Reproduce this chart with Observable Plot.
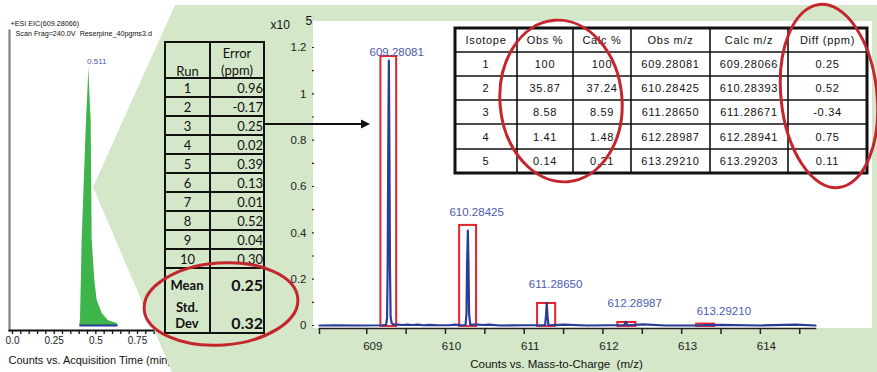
<!DOCTYPE html>
<html><head><meta charset="utf-8">
<script src="https://cdn.jsdelivr.net/npm/d3@7"></script>
<script src="https://cdn.jsdelivr.net/npm/@observablehq/plot@0.6"></script>
<style>
html,body{margin:0;padding:0;background:#fff;}
#wrap{position:relative;width:877px;height:372px;overflow:hidden;background:#fff;}
#wrap > *{position:absolute;left:0;top:0;}
</style></head><body><div id="wrap"></div>
<script>
// ---------- data: chromatogram (EIC) ----------
const chromTime      = [0.404,0.408,0.414,0.418,0.444,0.452,0.458,0.464,0.472,0.478,0.494,0.508,0.538,0.576,0.628,0.633];
const chromIntensity = [0,0.027,0.2,0.33,0.795,0.9,1.0,0.9,0.795,0.33,0.174,0.097,0.047,0.019,0.008,0];
const chromApexTime = 0.458;
const chromApexLabel = "0.511";
const chromTitle1 = "+ESI EIC(609.28066)";
const chromTitle2 = "Scan Frag=240.0V  Reserpine_40pgms3.d";
const chromXTicks = [0, 0.25, 0.5, 0.75];
const chromXTickLabels = ["0.0", "0.25", "0.5", "0.75"];
const chromXLabel = "Counts vs. Acquisition Time (min)";

// ---------- data: mass spectrum (counts x10^5) ----------
const specMz = [608.40,608.60,608.90,609.20,609.245,609.258,609.266,609.273,609.2808,609.288,609.295,609.303,609.315,609.335,
  609.40,609.45,609.52,609.58,609.65,609.72,609.80,609.90,610.05,610.12,610.20,610.255,610.267,610.275,610.2843,610.292,610.300,610.315,
  610.40,610.48,610.55,610.70,611.00,611.265,611.277,611.2865,611.296,611.308,611.50,611.80,612.10,612.27,612.2899,612.31,612.50,612.80,
  613.20,613.2921,613.50,614.00,614.45,614.70];
const specCounts = [0,0.001,0,0.001,0.003,0.03,0.25,0.75,1.143,0.75,0.25,0.04,0.012,0.004,
  0.004,0.002,0.004,0.002,0.004,0.001,0.003,0.001,0.001,0.004,0.001,0.002,0.05,0.27,0.41,0.27,0.05,0.004,
  0.004,0.002,0.004,0,0.001,0.001,0.04,0.098,0.04,0.001,0.004,0,0.001,0.001,0.016,0.001,0.005,0,
  0,0.0016,0.003,0,0.004,0];
const peakLabels   = ["609.28081","610.28425","611.28650","612.28987","613.29210"];
const peakLabelMz  = [609.381,610.396,611.399,612.403,613.536];
const peakLabelY   = [1.178,0.488,0.177,0.095,0.060];
const boxMzLo  = [609.18,610.18,611.17,612.19,613.19];
const boxMzHi  = [609.38,610.395,611.40,612.42,613.42];
const boxTop   = [1.161,0.432,0.095,0.013,0.006];
const specXTicks = [609,610,611,612,613,614];
const specXMinorTicks = [608.4,609,609.5,610,610.5,611,611.5,612,612.5,613,613.5,614,614.5];
const specYTicks = [0,0.2,0.4,0.6,0.8,1.0,1.2];
const specYMinorTicks = [0,0.1,0.2,0.3,0.4,0.5,0.6,0.7,0.8,0.9,1.0,1.1,1.2];
const specXLabel = "Counts vs. Mass-to-Charge  (m/z)";

// ---------- data: run table ----------
const runs = ["1","2","3","4","5","6","7","8","9","10"];
const runErrors = ["0.96","-0.17","0.25","0.02","0.39","0.13","0.01","0.52","0.04","0.30"];
const runMean = "0.25";
const runStdDev = "0.32";

// ---------- data: isotope table ----------
const isoHeader = ["Isotope","Obs %","Calc %","Obs m/z","Calc m/z","Diff (ppm)"];
const isoId   = ["1","2","3","4","5"];
const isoObs  = ["100","35.87","8.58","1.41","0.14"];
const isoCalc = ["100","37.24","8.59","1.48","0.21"];
const isoObsMz  = ["609.28081","610.28425","611.28650","612.28987","613.29210"];
const isoCalcMz = ["609.28066","610.28393","611.28671","612.28941","613.29203"];
const isoDiff   = ["0.25","0.52","-0.34","0.75","0.11"];

// ---------- build ----------
const wrap = document.getElementById("wrap");
const W = 877, H = 372;
const BLUE = "#2c3b98", LBLUE = "#4a5ab0", RED = "#e4232b", ERED = "#c4262e", GREEN_BG = "#d4e7c9", GREEN_PK = "#3db54a";
const SANS = "'Liberation Sans', Arial, sans-serif";

const chromData = chromTime.map((t, i) => ({t, v: chromIntensity[i]}));
const chrom = Plot.plot({
  width: 170, height: H,
  marginLeft: 9, marginRight: 15, marginTop: 30, marginBottom: 42,
  x: {domain: [-0.018, 0.858], label: null},
  y: {domain: [-0.019, 1.143], label: null, axis: null},
  style: {background: "transparent", fontFamily: SANS, fontSize: "10px", color: "#222", overflow: "visible"},
  marks: [
    Plot.areaY(chromData, {x: "t", y: "v", fill: GREEN_PK}),
    Plot.ruleY([0], {x1: d3.min(chromTime), x2: d3.max(chromTime), stroke: BLUE, strokeWidth: 2}),
    Plot.frame({anchor: "left", stroke: "#808080", strokeWidth: 2.2}),
    Plot.frame({anchor: "bottom", stroke: "#111", strokeWidth: 2}),
    Plot.axisX({ticks: d3.range(0, 0.851, 0.05), tickSize: 4, text: null, label: null, stroke: "#111", strokeWidth: 1.3}),
    Plot.axisX({ticks: chromXTicks, tickSize: 0, tickPadding: 6, label: null, tickFormat: (d, i) => chromXTickLabels[i]}),
    Plot.text([chromApexLabel], {x: chromApexTime, y: 1, dx: 8, dy: -6, fill: LBLUE, fontSize: 8}),
    Plot.text([chromTitle1], {frameAnchor: "top-left", dx: 1, dy: -10, textAnchor: "start", fontSize: 7.2, fill: "#111"}),
    Plot.text([chromTitle2], {frameAnchor: "top-left", dx: 6, dy: 0, textAnchor: "start", fontSize: 7.2, fill: "#111"}),
    Plot.text([chromXLabel], {frameAnchor: "bottom-left", dx: -1, dy: 33, textAnchor: "start", fontSize: 11, fill: "#111"})
  ]
});
wrap.appendChild(chrom);

// background: green fan and white plot area
const back = d3.create("svg").attr("width", W).attr("height", H);
back.append("polygon").attr("points", "175,5 877,5 877,372 172,372 93,187").attr("fill", GREEN_BG);
back.append("rect").attr("x", 313).attr("y", 21).attr("width", 559).attr("height", 307).attr("fill", "#fff");
wrap.appendChild(back.node());

const specData = specMz.map((m, i) => ({mz: m, c: specCounts[i]}));
const boxes = boxMzLo.map((lo, i) => ({lo, hi: boxMzHi[i], top: boxTop[i]}));
const labels = peakLabels.map((s, i) => ({s, x: peakLabelMz[i], y: peakLabelY[i]}));
const fmtY = d => String(+d.toFixed(1));
const spec = Plot.plot({
  width: W, height: H,
  marginLeft: 319, marginRight: 62, marginTop: 47, marginBottom: 44,
  x: {domain: [608.4, 614.7], label: null},
  y: {domain: [-0.013, 1.2], label: null},
  style: {background: "transparent", fontFamily: SANS, fontSize: "11.5px", color: "#222", overflow: "visible"},
  marks: [
    Plot.rect(boxes, {x1: "lo", x2: "hi", y1: -0.004, y2: "top", stroke: RED, strokeWidth: 2, fill: "none"}),
    Plot.line(specData, {x: "mz", y: "c", stroke: BLUE, strokeWidth: 2.2}),
    Plot.text(labels, {x: "x", y: "y", text: "s", fill: LBLUE, fontSize: 11.5}),
    Plot.frame({anchor: "bottom", stroke: "#222", strokeWidth: 1.6}),
    Plot.axisX({ticks: specXMinorTicks, tickSize: 6, text: null, label: null, stroke: "#222", strokeWidth: 1.5}),
    Plot.axisX({ticks: specXTicks, tickSize: 0, tickPadding: 13, dx: 6, label: null, tickFormat: d => String(d)}),
    Plot.axisY({ticks: specYMinorTicks, tickSize: 2, text: null, label: null, dx: -5, stroke: "#222", strokeWidth: 1.2}),
    Plot.axisY({ticks: specYTicks, tickSize: 0, tickPadding: 13, label: null, tickFormat: fmtY}),
    Plot.text(["x10"], {frameAnchor: "top-left", dx: -49, dy: -27, fontSize: 12, fill: "#111"}),
    Plot.text(["5"], {frameAnchor: "top-left", dx: -14, dy: -31, fontSize: 12, fill: "#111"}),
    Plot.text([specXLabel], {frameAnchor: "bottom", dx: -11, dy: 39, fontSize: 11.5, fill: "#111"})
  ]
});
wrap.appendChild(spec);

// front: tables, arrow, ellipses
const front = d3.create("svg").attr("width", W).attr("height", H);
// run table
const rt = front.append("g").attr("font-family", "Lato, 'Open Sans', sans-serif").attr("fill", "#111").attr("font-size", 13);
const rX = [165, 210, 264];
const rY = [42, 78]; for (let i = 1; i <= runs.length; i++) rY.push(78 + 19 * i);
const rBottom = 333;
rt.append("rect").attr("x", rX[0]).attr("y", rY[0]).attr("width", rX[2] - rX[0]).attr("height", rBottom - rY[0]).attr("fill", "none").attr("stroke", "#111").attr("stroke-width", 2);
rt.append("line").attr("x1", rX[1]).attr("x2", rX[1]).attr("y1", rY[0]).attr("y2", rBottom).attr("stroke", "#111").attr("stroke-width", 2);
rY.slice(1).forEach(y => rt.append("line").attr("x1", rX[0]).attr("x2", rX[2]).attr("y1", y).attr("y2", y).attr("stroke", "#111").attr("stroke-width", 2));
rt.append("text").attr("x", 187.5).attr("y", 76).attr("text-anchor", "middle").text("Run");
rt.append("text").attr("x", 237).attr("y", 58).attr("text-anchor", "middle").text("Error");
rt.append("text").attr("x", 237).attr("y", 75).attr("text-anchor", "middle").text("(ppm)");
runs.forEach((r, i) => {
  const yc = rY[i + 1] + 14.5;
  rt.append("text").attr("x", 187.5).attr("y", yc).attr("text-anchor", "middle").text(r);
  rt.append("text").attr("x", 263).attr("y", yc).attr("text-anchor", "end").text(runErrors[i]);
});
rt.append("text").attr("x", 187).attr("y", 290).attr("text-anchor", "middle").attr("font-weight", "bold").text("Mean");
rt.append("text").attr("x", 187).attr("y", 312).attr("text-anchor", "middle").attr("font-weight", "bold").text("Std.");
rt.append("text").attr("x", 187).attr("y", 328).attr("text-anchor", "middle").attr("font-weight", "bold").text("Dev");
rt.append("text").attr("x", 263).attr("y", 291).attr("text-anchor", "end").attr("font-weight", "bold").attr("font-size", 16).text(runMean);
rt.append("text").attr("x", 263).attr("y", 329).attr("text-anchor", "end").attr("font-weight", "bold").attr("font-size", 16).text(runStdDev);

// arrow
front.append("line").attr("x1", 264).attr("x2", 363).attr("y1", 124).attr("y2", 124).attr("stroke", "#111").attr("stroke-width", 2);
front.append("polygon").attr("points", "361,119.5 370,124 361,128.5").attr("fill", "#111");

// isotope table
const it = front.append("g").attr("font-family", SANS).attr("font-size", 11).attr("fill", "#111").attr("letter-spacing", "0.7px");
const iX = [455, 517, 573, 631, 710, 788, 867];
const iY = [28, 52, 76, 100, 124, 149, 173];
it.append("rect").attr("x", iX[0]).attr("y", iY[0]).attr("width", iX[6] - iX[0]).attr("height", iY[6] - iY[0]).attr("fill", "#fff");
iX.slice(1, -1).forEach(x => it.append("line").attr("x1", x).attr("x2", x).attr("y1", iY[0]).attr("y2", iY[6]).attr("stroke", "#111").attr("stroke-width", 1.6));
iY.slice(1, -1).forEach(y => it.append("line").attr("x1", iX[0]).attr("x2", iX[6]).attr("y1", y).attr("y2", y).attr("stroke", "#111").attr("stroke-width", 1.6));
it.append("rect").attr("x", iX[0]).attr("y", iY[0]).attr("width", iX[6] - iX[0]).attr("height", iY[6] - iY[0]).attr("fill", "none").attr("stroke", "#111").attr("stroke-width", 3);
const isoRows = [isoHeader].concat(isoId.map((id, i) => [id, isoObs[i], isoCalc[i], isoObsMz[i], isoCalcMz[i], isoDiff[i]]));
isoRows.forEach((row, r) => row.forEach((cell, c) => {
  it.append("text").attr("x", (iX[c] + iX[c + 1]) / 2).attr("y", (iY[r] + iY[r + 1]) / 2 + 4).attr("text-anchor", "middle").text(cell);
}));

// red ellipses
const ell = (cx, cy, rx, ry, rot) => front.append("ellipse").attr("cx", cx).attr("cy", cy).attr("rx", rx).attr("ry", ry)
  .attr("transform", `rotate(${rot} ${cx} ${cy})`).attr("fill", "none").attr("stroke", ERED).attr("stroke-width", 3);
ell(561, 101, 61, 81, -5);
ell(829, 96, 48, 92, -6);
ell(221, 304, 77, 41, -4);
wrap.appendChild(front.node());
</script></body></html>
